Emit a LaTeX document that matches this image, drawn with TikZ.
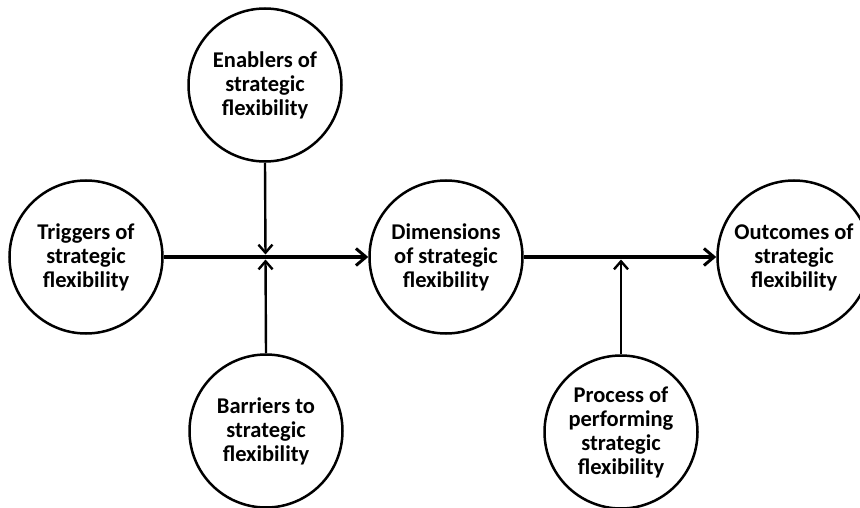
\documentclass[tikz,border=0pt]{standalone}
\usepackage{fontspec}
\setmainfont{Carlito}
\usetikzlibrary{arrows.meta}
\begin{document}
\begin{tikzpicture}[x=1pt,y=-1pt,
  circ/.style={circle, draw, line width=2.5pt, minimum size=153pt, inner sep=0pt,
    align=center, font=\fontsize{22.5}{24}\selectfont\bfseries},
  mainline/.style={line width=3.2pt, -{Straight Barb[length=10pt,width=17pt,line width=3pt]}},
  feed/.style={line width=2.4pt, -{Straight Barb[length=8pt,width=14pt,line width=2.4pt]}}]
\useasboundingbox (0,0) rectangle (860,508);
\clip (0,0) rectangle (860,508);
\fill[white] (0,0) rectangle (860,508);
\node[circ] (T) at (86,257) {Triggers of\\strategic\\flexibility};
\node[circ] (E) at (265,85) {Enablers of\\strategic\\flexibility};
\node[circ] (D) at (446,257) {Dimensions\\of strategic\\flexibility};
\node[circ] (O) at (794,257) {Outcomes of\\strategic\\flexibility};
\node[circ] (B) at (266,431) {Barriers to\\strategic\\flexibility};
\node[circ] (P) at (621,432) {Process of\\performing\\strategic\\flexibility};
\coordinate (J1) at (265.5,257);
\coordinate (J2) at (621,257);
\draw[mainline] (T.east) -- (D.west);
\draw[mainline] (D.east) -- (O.west);
\draw[feed, shorten >=2.5pt] (E.south) -- (J1);
\draw[feed, shorten >=2.5pt] (B.north) -- (J1);
\draw[feed, shorten >=2.5pt] (P.north) -- (J2);
\end{tikzpicture}
\end{document}
